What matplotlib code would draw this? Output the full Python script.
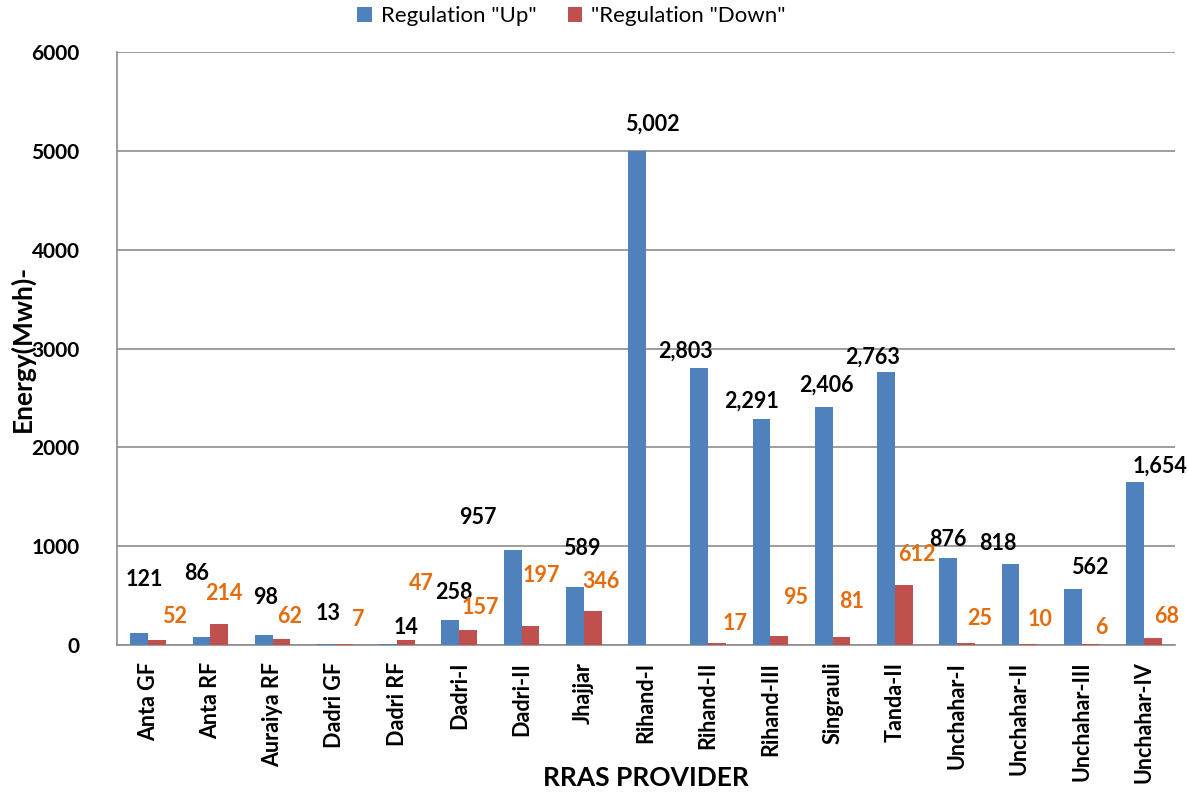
import numpy as np
import matplotlib
matplotlib.use('Agg')
import matplotlib.pyplot as plt

plt.rcParams['font.family'] = ['Lato', 'DejaVu Sans']

providers = ['Anta GF', 'Anta RF', 'Auraiya RF', 'Dadri GF', 'Dadri RF', 'Dadri-I',
             'Dadri-II', 'Jhajjar', 'Rihand-I', 'Rihand-II', 'Rihand-III', 'Singrauli',
             'Tanda-II', 'Unchahar-I', 'Unchahar-II', 'Unchahar-III', 'Unchahar-IV']
reg_up = [121, 86, 98, 13, 14, 258, 957, 589, 5002, 2803, 2291, 2406, 2763, 876, 818, 562, 1654]
reg_down = [52, 214, 62, 7, 47, 157, 197, 346, 0, 17, 95, 81, 612, 25, 10, 6, 68]

# label offsets (pixels) from the top of each bar, as placed in the original chart
up_dx = [5, -5, 2, 2, 18, 3, -35, 7, 15, -14, -10, 3, -13, 0, -13, 17, 25]
up_dy = [54, 63, 38, 30, 16, 27, 33, 38, 26, 17, 17, 22, 15, 19, 21, 22, 15]
dn_dx = [18, 5, 8, 15, 15, 12, 11, 8, 0, 18, 16, 10, 13, 14, 12, 11, 14]
dn_dy = [23, 30, 22, 25, 57, 22, 50, 29, 0, 20, 38, 36, 30, 24, 25, 17, 22]

blue = '#4F81BD'
red = '#C0504D'
orange = '#E46C0A'

fig = plt.figure(figsize=(11.88, 7.98), dpi=100)
ax = fig.add_axes([0.0985, 0.1917, 0.8905, 0.7431])

x = np.arange(len(providers))
w = 0.286
ax.bar(x - w/2, reg_up, w, color=blue, label='Regulation "Up"', zorder=3)
ax.bar(x + w/2, reg_down, w, color=red, label='"Regulation "Down"', zorder=3)

for i in range(len(providers)):
    ax.annotate('{:,}'.format(reg_up[i]), (x[i] - w/2, reg_up[i]),
                xytext=(up_dx[i], up_dy[i]), textcoords='offset pixels',
                ha='center', va='center', fontsize=15.5, fontweight='bold', color='black')
    if reg_down[i] > 0:
        ax.annotate('{:,}'.format(reg_down[i]), (x[i] + w/2, reg_down[i]),
                    xytext=(dn_dx[i], dn_dy[i]), textcoords='offset pixels',
                    ha='center', va='center', fontsize=15.5, fontweight='bold', color=orange)

ax.set_xlim(-0.5, len(providers) - 0.5)
ax.set_ylim(0, 6000)
ax.set_yticks(range(0, 6001, 1000))
ax.grid(axis='y', color='#8C8C8C', linewidth=1.2, zorder=0)
ax.set_xticks(x)
ax.set_xticklabels(providers, rotation=90, fontsize=15.5, fontweight='bold')
for t in ax.get_yticklabels():
    t.set_fontweight('bold')
ax.tick_params(axis='y', length=0, pad=27, labelsize=15)
ax.tick_params(axis='x', length=0, pad=12)

for s in ['top', 'right']:
    ax.spines[s].set_visible(False)
ax.spines['left'].set_color('#8C8C8C')
ax.spines['bottom'].set_color('#8C8C8C')
ax.spines['left'].set_linewidth(1.2)
ax.spines['bottom'].set_linewidth(1.2)

ax.set_xlabel('RRAS PROVIDER', fontsize=19, fontweight='bold')
ax.xaxis.set_label_coords(0.5, -0.224)
ax.xaxis.label.set_va('center')
ax.set_ylabel('Energy(Mwh)-', fontsize=19, fontweight='bold')
ax.yaxis.set_label_coords(-0.0898, 0.5)
ax.yaxis.label.set_va('center')

fig.legend(*ax.get_legend_handles_labels(), loc='center', bbox_to_anchor=(0.481, 0.98),
           ncol=2, frameon=False, fontsize=16, handlelength=0.65, handleheight=0.65,
           columnspacing=1.4, handletextpad=0.4)

plt.savefig('out.png', dpi=100)
